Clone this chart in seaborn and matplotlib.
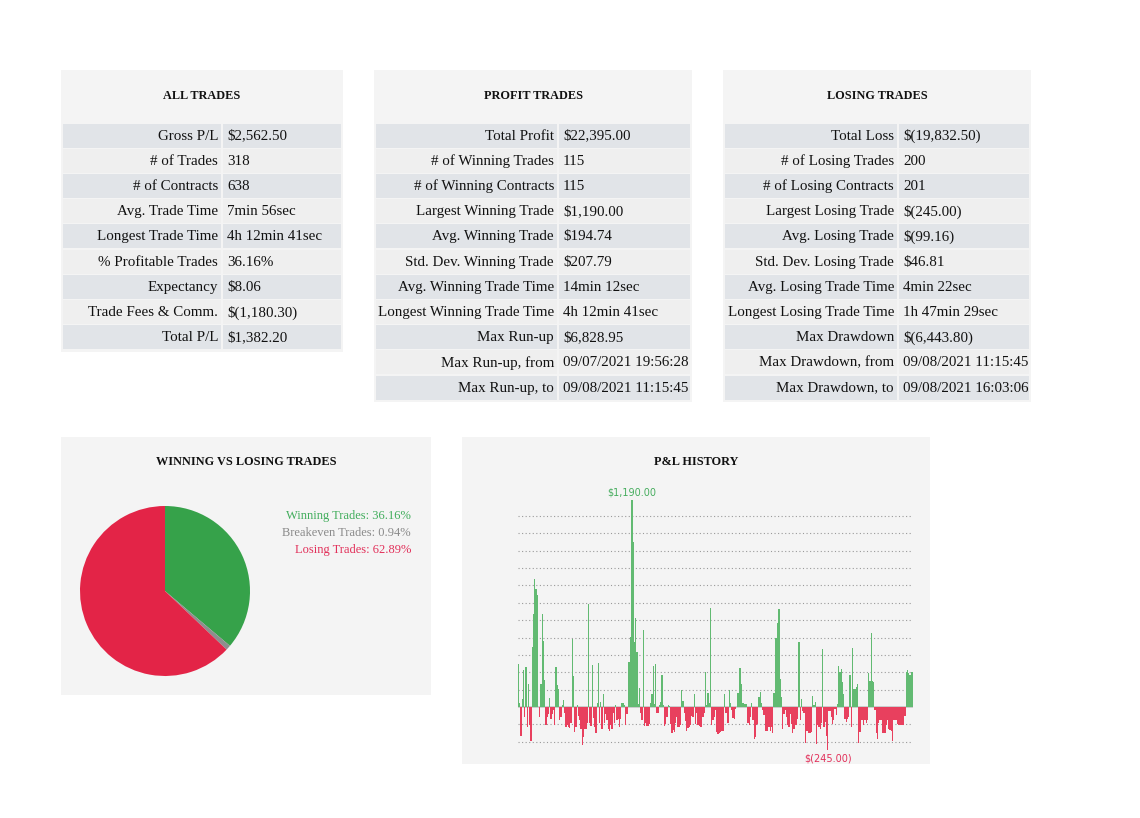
import matplotlib
matplotlib.use("Agg")
import matplotlib.pyplot as plt
from matplotlib.patches import Rectangle
import numpy as np
import pandas as pd
import seaborn as sns

# ---- table data ----
all_labels = ["Gross P/L", "# of Trades", "# of Contracts", "Avg. Trade Time",
              "Longest Trade Time", "% Profitable Trades", "Expectancy",
              "Trade Fees & Comm.", "Total P/L"]
all_values = ["$2,562.50", "318", "638", "7min 56sec", "4h 12min 41sec",
              "36.16%", "$8.06", "$(1,180.30)", "$1,382.20"]

profit_labels = ["Total Profit", "# of Winning Trades", "# of Winning Contracts",
                 "Largest Winning Trade", "Avg. Winning Trade", "Std. Dev. Winning Trade",
                 "Avg. Winning Trade Time", "Longest Winning Trade Time", "Max Run-up",
                 "Max Run-up, from", "Max Run-up, to"]
profit_values = ["$22,395.00", "115", "115", "$1,190.00", "$194.74", "$207.79",
                 "14min 12sec", "4h 12min 41sec", "$6,828.95",
                 "09/07/2021 19:56:28", "09/08/2021 11:15:45"]

losing_labels = ["Total Loss", "# of Losing Trades", "# of Losing Contracts",
                 "Largest Losing Trade", "Avg. Losing Trade", "Std. Dev. Losing Trade",
                 "Avg. Losing Trade Time", "Longest Losing Trade Time", "Max Drawdown",
                 "Max Drawdown, from", "Max Drawdown, to"]
losing_values = ["$(19,832.50)", "200", "201", "$(245.00)", "$(99.16)", "$46.81",
                 "4min 22sec", "1h 47min 29sec", "$(6,443.80)",
                 "09/08/2021 11:15:45", "09/08/2021 16:03:06"]

# ---- pie data ----
pie_names = ["Winning Trades", "Breakeven Trades", "Losing Trades"]
pie_pcts = [36.16, 0.94, 62.89]

# ---- P&L history (per trade) ----
pnl = [
    250, 25, -167, 44, 213, -60, 233, -113, 133, -104,
    -194, 344, 535, 738, 679, 644, 0, -56, 133, 535,
    379, 156, -104, -56, -40, 54, -67, -40, -17, -104,
    229, 127, 102, -75, -56, 12, 38, -37, -113, -106,
    -113, -121, -94, 392, 179, -144, -113, 10, -52, -75,
    -129, -221, -171, -125, -125, -94, 592, -94, -110, 242,
    -65, -113, -152, 21, 252, -94, 29, -125, 73, -94,
    -40, -75, -129, -140, -106, -125, -37, -94,
    12, -75, -67, -113, -71, 21, 21, 13, -106, -40,
    260, 260, 406, 1190, 950, 373, 512, 315, 17, 108,
    -33, -75, 444, -110, -94, -110, -110, -98, 21, 75,
    237, 19, 248, -33, -33, 12, 29, 185, 10, -110,
    -98, -56, 12, 8, -98, -148, -133, -144, -94, -56,
    -113, -117, -106, 98, 37, -33, -79, -140, -121, -117,
    -106, -52, -60, 73, -98, -37, -106, -110, -117, -113,
    -56, -37, 204, 12, 79, 21, 569, -106, -75,
    -56, -17, -144, -156, -152, -144, -140, -140, 75, -33,
    -37, -90, 98, 21, -17, -65, -67, -10, 0, 79,
    225, 225, 133, 21, 15, 15, 17, -94, -106, -56,
    21, -75, -183, -171, -106, -98, 60, 88, 21, -17,
    -44, -136, -136, -136, -113, -136, -113, -152, 83, 398,
    396, 483, 563, 160, 60, -129, -40, -17, -56, -106,
    -113, -40, -98, -152, -129, -106, -106, -71, 373, -75,
    48, -25, -33, -206, -136, -136, -148, -152, -144, 63, 12,
    29, -213, -106, -113, -125, -94, 335, -113, -87, -167,
    -245, -25, -25, -56, -98, -75, -10, -44, 15, 238,
    204, 217, 144, 75, -67, -85, -71, -56, 185, -113,
    340, 102, 102, 113, 133, -206, -144, -75, -75, -106,
    -75, -90, -75, 198, 148, 429, 148, 142, -17, -148,
    -183, -94, -75, -75, -148, -152, -152, -106, -75, -125,
    -133, -136, -194, -75, -75, -75, -98, -106, -106, -106,
    -106, -106, -52, 202, 213, 194, 183, 204, 204,
]

PANEL = "#f4f4f4"
ROW_DARK = "#e1e4e8"
ROW_LIGHT = "#efefef"
GREEN = "#62ba72"
RED = "#e8405e"

sns.set_theme(style="white")
plt.rcParams["font.family"] = ["Liberation Serif", "DejaVu Serif"]

W, H = 1140, 818
fig = plt.figure(figsize=(W / 100, H / 100), dpi=100)
fig.patch.set_facecolor("white")

# background axes in pixel coordinates
bg = fig.add_axes([0, 0, 1, 1])
bg.set_xlim(0, W)
bg.set_ylim(H, 0)
bg.axis("off")


def panel(x0, y0, x1, y1):
    bg.add_patch(Rectangle((x0, y0), x1 - x0, y1 - y0, facecolor=PANEL,
                           edgecolor="none", zorder=0))


def draw_table(x0, x1, y0, title, labels, values, split, row_h=25.2):
    panel(x0, y0, x1, y0 + 53 + row_h * len(labels) + 2)
    bg.text((x0 + x1) / 2, y0 + 26, title, ha="center", va="center",
            fontsize=8.8, fontweight="bold", color="#111111")
    top = y0 + 53
    for i, (lab, val) in enumerate(zip(labels, values)):
        c = ROW_DARK if i % 2 == 0 else ROW_LIGHT
        ry = top + i * row_h
        bg.add_patch(Rectangle((x0 + 2, ry + 0.6), split - x0 - 3, row_h - 1.2,
                               facecolor=c, edgecolor="none", zorder=1))
        bg.add_patch(Rectangle((split + 1, ry + 0.6), x1 - split - 3, row_h - 1.2,
                               facecolor=c, edgecolor="none", zorder=1))
        bg.text(split - 4, ry + row_h / 2 + 0.5, lab, ha="right", va="center",
                fontsize=10.8, color="#111111", zorder=2)
        bg.text(split + 5, ry + row_h / 2 + 0.5, val, ha="left", va="center",
                fontsize=10.8, color="#111111", zorder=2)


draw_table(61, 343, 70, "ALL TRADES", all_labels, all_values, 222)
draw_table(374, 692, 70, "PROFIT TRADES", profit_labels, profit_values, 558)
draw_table(723, 1031, 70, "LOSING TRADES", losing_labels, losing_values, 898)

# ---- pie panel ----
panel(61, 437, 431, 695)
bg.text(246, 462, "WINNING VS LOSING TRADES", ha="center", va="center",
        fontsize=8.8, fontweight="bold", color="#111111")

pie_colors = ["#36a24a", "#8e8e8e", "#e32447"]
text_colors = ["#41ad5c", "#8a8a8a", "#e2305a"]
cx, cy, r = 165, 591, 85
pax = fig.add_axes([(cx - r) / W, (H - cy - r) / H, 2 * r / W, 2 * r / H])
pax.pie(pie_pcts, colors=pie_colors, startangle=90, counterclock=False,
        wedgeprops=dict(linewidth=0))
pax.set_xlim(-1, 1)
pax.set_ylim(-1, 1)
pax.set_aspect("equal")
pax.axis("off")

for i, (n, p) in enumerate(zip(pie_names, pie_pcts)):
    bg.text(411, 516 + i * 17, f"{n}: {p:.2f}%", ha="right", va="center",
            fontsize=9, color=text_colors[i])

# ---- P&L history panel ----
panel(462, 437, 930, 764)
bg.text(696, 462, "P&L HISTORY", ha="center", va="center",
        fontsize=8.8, fontweight="bold", color="#111111")

df = pd.DataFrame({"trade": np.arange(len(pnl)), "pnl": pnl})
df["kind"] = np.where(df["pnl"] >= 0, "win", "loss")

# axes placement: zero line at y=707px, 1100 at y=516px
px_per = 191 / 1100
ymin, ymax = -260, 1220
top_px = 707 - ymax * px_per
bot_px = 707 - ymin * px_per
left_px, right_px = 518, 913
bax = fig.add_axes([left_px / W, (H - bot_px) / H,
                    (right_px - left_px) / W, (bot_px - top_px) / H])
bax.patch.set_alpha(0)

for g in range(-200, 1200, 100):
    if g == 0:
        continue
    bax.axhline(g, color="#9a9a9a", linestyle=(0, (1, 2.2)), linewidth=0.8, zorder=0)

sns.barplot(data=df, x="trade", y="pnl", hue="kind",
            palette={"win": GREEN, "loss": RED}, dodge=False, width=1.0,
            saturation=1, linewidth=0, legend=False, ax=bax, zorder=2)
bax.axhline(0, color="#c4c4c4", linewidth=1.2, zorder=1)

bax.set_xlim(-0.5, len(pnl) - 0.5)
bax.set_ylim(ymin, ymax)
bax.set_xticks([])
bax.set_yticks([])
bax.set_xlabel("")
bax.set_ylabel("")
sns.despine(ax=bax, left=True, bottom=True)

imax = int(np.argmax(pnl))
imin = int(np.argmin(pnl))
bax.annotate(f"${pnl[imax]:,.2f}", (imax, pnl[imax]), xytext=(0, 2),
             textcoords="offset points", ha="center", va="bottom",
             fontsize=7, color="#46ad5e", family="DejaVu Sans")
bax.annotate(f"$({-pnl[imin]:,.2f})", (imin, pnl[imin]), xytext=(0, -3),
             textcoords="offset points", ha="center", va="top",
             fontsize=7, color="#e2305a", family="DejaVu Sans", clip_on=False)

fig.savefig("out.png", dpi=100)
